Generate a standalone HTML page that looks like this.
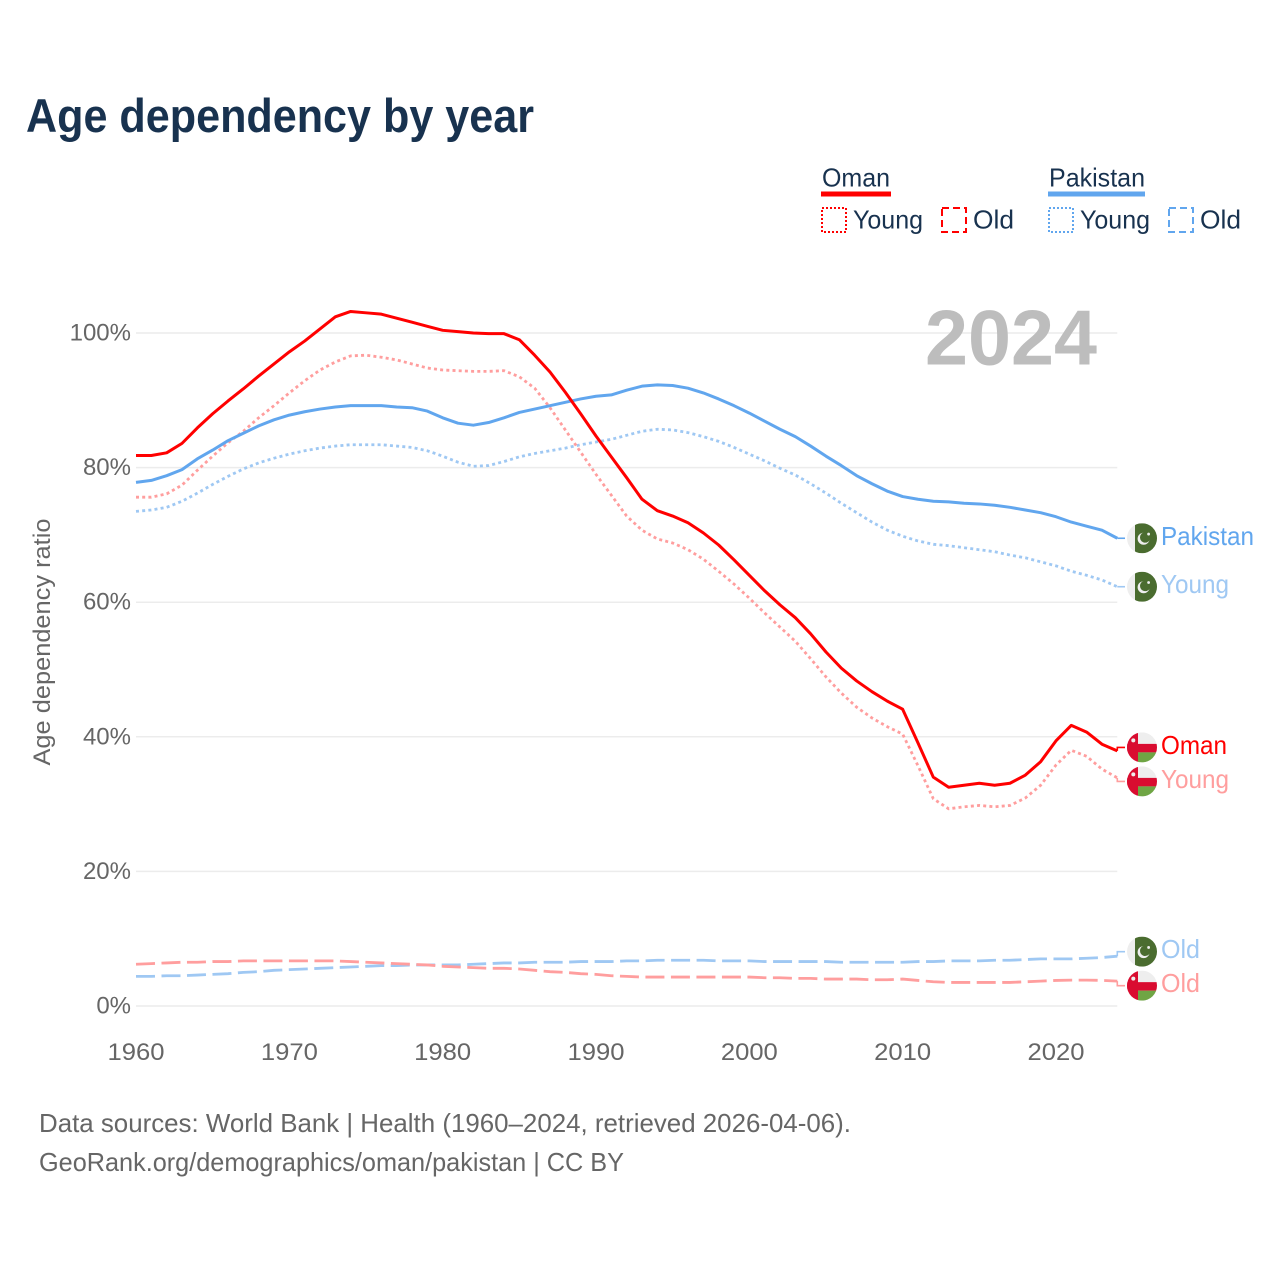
<!DOCTYPE html>
<html lang="en">
<head>
<meta charset="utf-8">
<title>Age dependency by year</title>
<style>
html,body{margin:0;padding:0;background:#fff;}
svg{display:block;font-family:"Liberation Sans",sans-serif;}
</style>
</head>
<body>
<svg id="chart" xmlns="http://www.w3.org/2000/svg" width="1280" height="1280" viewBox="0 0 1280 1280">
  <rect width="1280" height="1280" fill="#fff"/>
  <text x="26" y="132" font-size="47" font-weight="700" fill="#18324f" textLength="508" lengthAdjust="spacingAndGlyphs">Age dependency by year</text>

  <g font-size="26" fill="#18324f">
    <text x="822" y="186.5" textLength="68" lengthAdjust="spacingAndGlyphs">Oman</text>
    <rect x="821" y="191.5" width="70" height="5" fill="#ff0000"/>
    <rect x="822" y="208" width="24" height="24" fill="none" stroke="#ff0000" stroke-width="2" stroke-dasharray="2 2"/>
    <text x="853" y="228.5" textLength="70" lengthAdjust="spacingAndGlyphs">Young</text>
    <rect x="942" y="208" width="24" height="24" fill="none" stroke="#ff0000" stroke-width="2" stroke-dasharray="7 4"/>
    <text x="973" y="228.5" textLength="41" lengthAdjust="spacingAndGlyphs">Old</text>
    <text x="1049" y="186.5" textLength="96" lengthAdjust="spacingAndGlyphs">Pakistan</text>
    <rect x="1048" y="191.5" width="97" height="5" fill="#61a6ee"/>
    <rect x="1049" y="208" width="24" height="24" fill="none" stroke="#61a6ee" stroke-width="2" stroke-dasharray="2 2"/>
    <text x="1080" y="228.5" textLength="70" lengthAdjust="spacingAndGlyphs">Young</text>
    <rect x="1169" y="208" width="24" height="24" fill="none" stroke="#61a6ee" stroke-width="2" stroke-dasharray="7 4"/>
    <text x="1200" y="228.5" textLength="41" lengthAdjust="spacingAndGlyphs">Old</text>
  </g>

  <g id="grid"></g>
  <text x="1097" y="364.5" text-anchor="end" font-size="78" font-weight="700" fill="#bdbdbd" textLength="172" lengthAdjust="spacingAndGlyphs">2024</text>
  <g id="yticks"></g>
  <g id="xticks"></g>
  <text transform="translate(50 642) rotate(-90)" text-anchor="middle" font-size="24" fill="#666" textLength="247" lengthAdjust="spacingAndGlyphs">Age dependency ratio</text>
  <g id="series"></g>
  <g id="endlabels"></g>

  <g font-size="26" fill="#666">
    <text x="39" y="1132" textLength="812" lengthAdjust="spacingAndGlyphs">Data sources: World Bank | Health (1960–2024, retrieved 2026-04-06).</text>
    <text x="39" y="1171" textLength="585" lengthAdjust="spacingAndGlyphs">GeoRank.org/demographics/oman/pakistan | CC BY</text>
  </g>
</svg>
<script>
const startYear = 1960;
const yTickValues = [0, 20, 40, 60, 80, 100];
const xTickYears = [1960, 1970, 1980, 1990, 2000, 2010, 2020];

const omanTotal = [81.8,81.8,82.2,83.6,85.9,88.0,89.9,91.7,93.6,95.4,97.2,98.8,100.6,102.4,103.2,103.0,102.8,102.2,101.6,101.0,100.4,100.2,100.0,99.9,99.9,99.0,96.7,94.2,91.2,88.0,84.7,81.6,78.5,75.3,73.6,72.8,71.8,70.3,68.5,66.3,64.0,61.7,59.6,57.7,55.3,52.6,50.2,48.3,46.7,45.3,44.1,39.1,34.0,32.5,32.8,33.1,32.8,33.1,34.3,36.3,39.4,41.7,40.7,38.9,37.9];
const omanYoung = [75.6,75.6,76.1,77.4,79.6,81.7,83.7,85.4,87.4,89.2,91.1,92.9,94.5,95.7,96.6,96.7,96.4,96.0,95.4,94.8,94.5,94.4,94.3,94.3,94.4,93.5,91.8,88.9,85.6,82.3,79.0,75.9,72.8,70.7,69.4,68.8,67.8,66.4,64.6,62.7,60.6,58.4,56.3,54.2,51.6,48.9,46.5,44.4,42.8,41.5,40.4,35.7,30.8,29.3,29.6,29.8,29.6,29.8,30.9,32.8,35.8,38.0,37.1,35.2,33.9];
const omanOld = [6.2,6.3,6.4,6.5,6.5,6.6,6.6,6.7,6.7,6.7,6.7,6.7,6.7,6.7,6.6,6.5,6.4,6.3,6.2,6.1,5.9,5.8,5.7,5.6,5.6,5.5,5.3,5.1,5.0,4.8,4.7,4.5,4.4,4.3,4.3,4.3,4.3,4.3,4.3,4.3,4.3,4.2,4.2,4.1,4.1,4.0,4.0,4.0,3.9,3.9,4.0,3.8,3.6,3.5,3.5,3.5,3.5,3.5,3.6,3.7,3.8,3.85,3.85,3.8,3.7];
const pakistanTotal = [77.8,78.1,78.8,79.7,81.3,82.6,84.0,85.1,86.2,87.1,87.8,88.3,88.7,89.0,89.2,89.2,89.2,89.0,88.9,88.4,87.4,86.6,86.3,86.7,87.4,88.2,88.7,89.2,89.7,90.2,90.6,90.8,91.5,92.1,92.3,92.2,91.8,91.1,90.2,89.2,88.1,86.9,85.7,84.6,83.2,81.7,80.3,78.8,77.6,76.5,75.7,75.3,75.0,74.9,74.7,74.6,74.4,74.1,73.7,73.3,72.7,71.9,71.3,70.7,69.5];
const pakistanYoung = [73.5,73.7,74.1,75.0,76.2,77.5,78.7,79.8,80.7,81.4,82.0,82.5,82.9,83.2,83.4,83.4,83.4,83.2,83.0,82.5,81.7,80.8,80.2,80.3,80.9,81.6,82.1,82.5,82.9,83.4,83.8,84.2,84.8,85.4,85.7,85.6,85.2,84.6,83.9,83.0,82.0,81.0,79.9,78.9,77.6,76.2,74.7,73.3,71.9,70.7,69.8,69.1,68.6,68.4,68.1,67.8,67.5,67.0,66.6,66.0,65.4,64.6,64.0,63.3,62.3];
const pakistanOld = [4.4,4.4,4.5,4.5,4.6,4.7,4.8,5.0,5.1,5.3,5.4,5.5,5.6,5.7,5.8,5.9,6.0,6.0,6.1,6.1,6.1,6.1,6.2,6.3,6.4,6.4,6.5,6.5,6.5,6.6,6.6,6.6,6.7,6.7,6.8,6.8,6.8,6.8,6.7,6.7,6.7,6.6,6.6,6.6,6.6,6.6,6.5,6.5,6.5,6.5,6.5,6.6,6.6,6.7,6.7,6.7,6.8,6.8,6.9,7.0,7.0,7.0,7.1,7.2,7.4];

const SVGNS = 'http://www.w3.org/2000/svg';
const plotLeft = 136, plotRight = 1117.3, yZero = 1006, yHundred = 333;
const lastYear = startYear + omanTotal.length - 1;
function xScale(year) { return plotLeft + (year - startYear) * (plotRight - plotLeft) / (lastYear - startYear); }
function yScale(value) { return yZero - value * (yZero - yHundred) / 100; }
function make(tag, attrs, parent) {
  const el = document.createElementNS(SVGNS, tag);
  for (const k in attrs) el.setAttribute(k, attrs[k]);
  parent.appendChild(el);
  return el;
}
const gridG = document.getElementById('grid');
const yTicksG = document.getElementById('yticks');
const xTicksG = document.getElementById('xticks');
const seriesG = document.getElementById('series');
const endG = document.getElementById('endlabels');

yTickValues.forEach(function (v) {
  const line = make('line', {x1: plotLeft, x2: plotRight, y1: yScale(v), y2: yScale(v), stroke: '#ececec', 'stroke-width': 1.5}, gridG);
  
  
  const label = make('text', {x: 131, y: yScale(v) + 7.5, 'text-anchor': 'end', 'font-size': 24, fill: '#666'}, yTicksG);
  label.textContent = v + '%';
  
  
});
xTickYears.forEach(function (yr) {
  const label = make('text', {x: xScale(yr), y: 1060, 'text-anchor': 'middle', 'font-size': 24, fill: '#666', textLength: 57, lengthAdjust: 'spacingAndGlyphs'}, xTicksG);
  label.textContent = yr;
  
  
});

const DOT = '3 3.2', DASH = '19 6.5';
const seriesList = [
  {key: 'pakistan-old', name: 'Old', values: pakistanOld, color: '#9fc8f3', dash: DASH, flag: 'pk', w: 39},
  {key: 'oman-old', name: 'Old', values: omanOld, color: '#ff9e9e', dash: DASH, flag: 'om', w: 39},
  {key: 'pakistan-young', name: 'Young', values: pakistanYoung, color: '#9fc8f3', dash: DOT, flag: 'pk', w: 68},
  {key: 'oman-young', name: 'Young', values: omanYoung, color: '#ff9e9e', dash: DOT, flag: 'om', w: 68},
  {key: 'pakistan-total', name: 'Pakistan', values: pakistanTotal, color: '#61a6ee', dash: null, flag: 'pk', w: 93},
  {key: 'oman-total', name: 'Oman', values: omanTotal, color: '#ff0000', dash: null, flag: 'om', w: 66}
];

seriesList.forEach(function (s) {
  const d = s.values.map(function (v, i) {
    return (i ? 'L' : 'M') + xScale(startYear + i).toFixed(2) + ' ' + yScale(v).toFixed(2);
  }).join(' ');
  const path = make('path', {d: d, fill: 'none', stroke: s.color, 'stroke-width': s.dash ? 2.8 : 3, 'stroke-linejoin': 'round'}, seriesG);
  if (s.dash) path.setAttribute('stroke-dasharray', s.dash);
  
  
});

/* dodge end labels so they keep a minimum separation */
const minGap = 34;
const placed = seriesList.map(function (s) {
  return {s: s, raw: yScale(s.values[s.values.length - 1])};
}).sort(function (a, b) { return a.raw - b.raw; });
let groups = placed.map(function (p) { return {items: [p], center: p.raw}; });
let merged = true;
while (merged) {
  merged = false;
  for (let i = 0; i < groups.length - 1; i++) {
    const a = groups[i], b = groups[i + 1];
    const aEnd = a.center + (a.items.length - 1) * minGap / 2;
    const bStart = b.center - (b.items.length - 1) * minGap / 2;
    if (bStart - aEnd < minGap) {
      const items = a.items.concat(b.items);
      const center = items.reduce(function (t, p) { return t + p.raw; }, 0) / items.length;
      groups.splice(i, 2, {items: items, center: center});
      merged = true;
      break;
    }
  }
}
groups.forEach(function (g) {
  g.items.forEach(function (p, i) {
    p.y = g.center + (i - (g.items.length - 1) / 2) * minGap;
  });
});

let clipCount = 0;
function drawFlag(kind, cx, cy, parent) {
  clipCount++;
  const id = 'flag-clip-' + clipCount;
  const clip = make('clipPath', {id: id}, parent);
  make('circle', {cx: cx, cy: cy, r: 15}, clip);
  const g = make('g', {'clip-path': 'url(#' + id + ')'}, parent);
  
  
  if (kind === 'pk') {
    make('rect', {x: cx - 15, y: cy - 15, width: 30, height: 30, fill: '#eeeeee'}, g);
    make('rect', {x: cx - 7, y: cy - 15, width: 22, height: 30, fill: '#4a6c2f'}, g);
    make('circle', {cx: cx + 1.6, cy: cy + 0.5, r: 6, fill: '#eeeeee'}, g);
    make('circle', {cx: cx + 3.2, cy: cy - 0.8, r: 5.2, fill: '#4a6c2f'}, g);
    make('circle', {cx: cx + 6.6, cy: cy - 4.2, r: 1.4, fill: '#eeeeee'}, g);
  } else {
    make('rect', {x: cx - 15, y: cy - 15, width: 30, height: 30, fill: '#eeeeee'}, g);
    make('rect', {x: cx - 15, y: cy - 3.5, width: 30, height: 8.5, fill: '#d90c30'}, g);
    make('rect', {x: cx - 4, y: cy + 5, width: 19, height: 10, fill: '#6fa544'}, g);
    make('rect', {x: cx - 15, y: cy - 15, width: 11, height: 30, fill: '#d90c30'}, g);
    make('circle', {cx: cx - 8.7, cy: cy - 7, r: 2, fill: '#eeeeee'}, g);
  }
}

placed.forEach(function (p) {
  const s = p.s;
  const conn = make('path', {d: 'M' + plotRight + ' ' + p.raw.toFixed(2) + ' L' + plotRight + ' ' + p.y.toFixed(2) + ' L1125 ' + p.y.toFixed(2), fill: 'none', stroke: s.color, 'stroke-width': 1.6}, endG);
  
  
  drawFlag(s.flag, 1142, p.y, endG);
  const label = make('text', {x: 1161, y: p.y + 6.5, 'font-size': 26, fill: s.color, textLength: s.w, lengthAdjust: 'spacingAndGlyphs'}, endG);
  label.textContent = s.name;
  
  
});
</script>
</body>
</html>
